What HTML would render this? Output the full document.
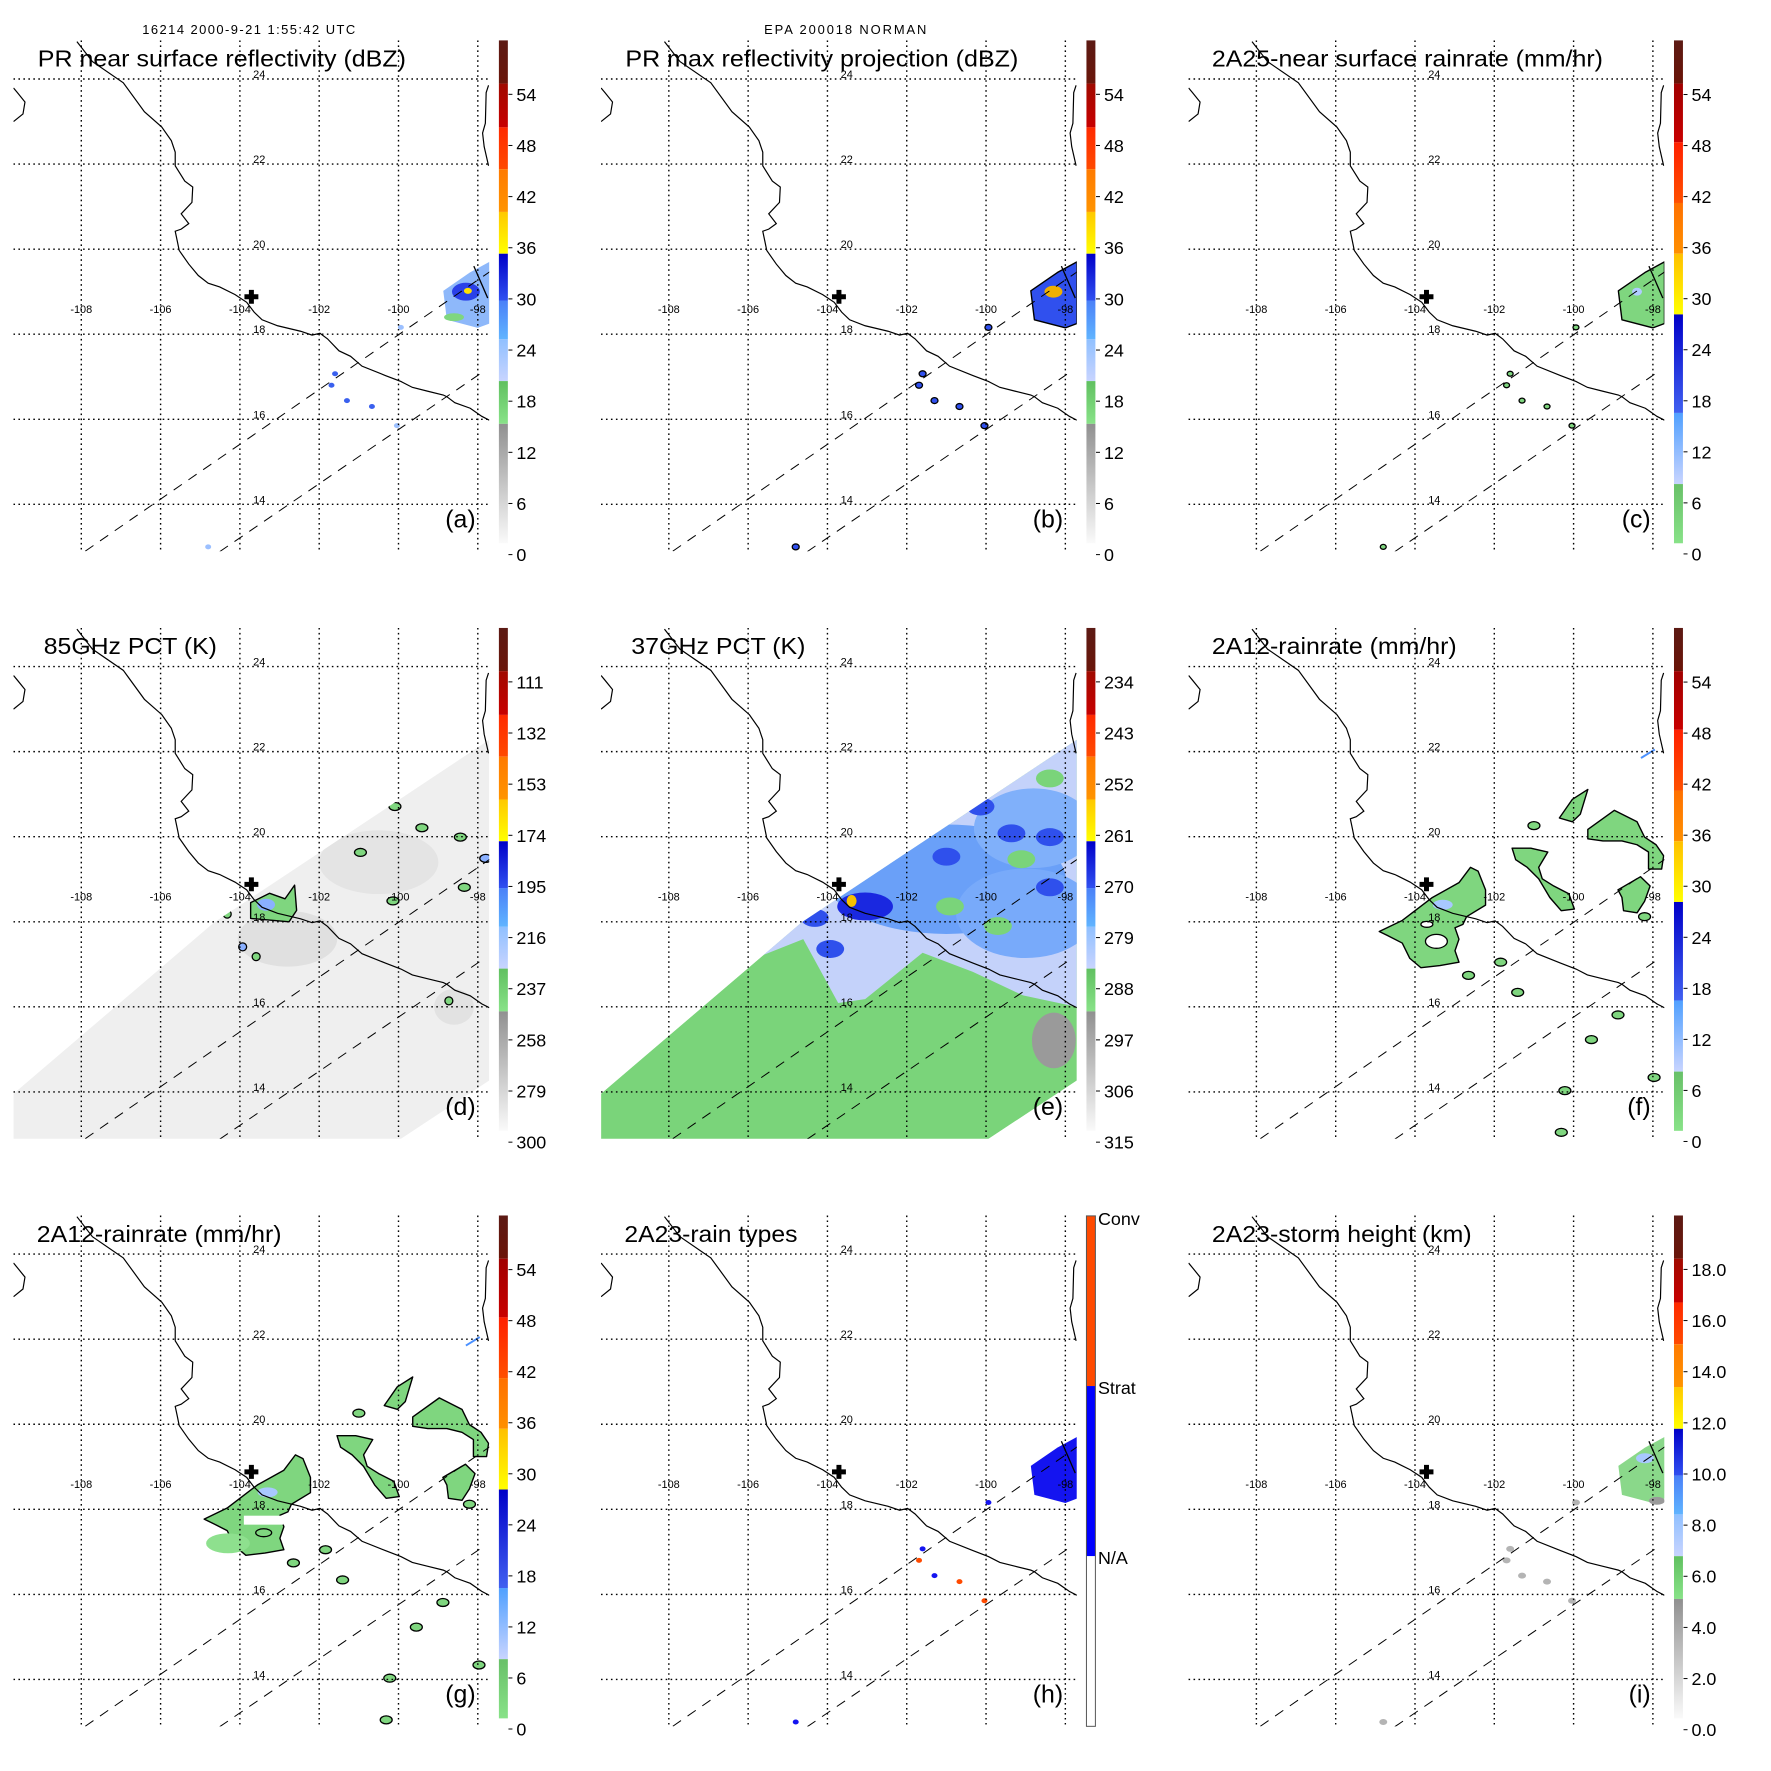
<!DOCTYPE html>
<html><head><meta charset="utf-8"><style>
html,body{margin:0;padding:0;background:#fff}
svg{display:block;font-family:"Liberation Sans",sans-serif}
</style></head><body>
<svg id="fig" xmlns="http://www.w3.org/2000/svg" width="1771" height="1771" viewBox="0 0 1771 1771">
<rect x="0" y="0" width="1771" height="1771" fill="#fff"/>
<g id="root" transform="scale(0.995)">
<text x="143" y="34" font-size="13" textLength="214">16214 2000-9-21 1:55:42 UTC</text>
<text x="768" y="34" font-size="13" textLength="163">EPA 200018 NORMAN</text>
</g>
</svg>
<script>
const coastLon=[-108.11,-107.72,-106.94,-106.41,-105.97,-105.73,-105.63,-105.63,-105.39,-105.19,-105.21,-105.48,-105.29,-105.48,-105.63,-105.58,-105.53,-105.29,-105.05,-104.80,-104.51,-104.12,-103.83,-103.64,-103.44,-103.05,-102.47,-102.18,-101.98,-101.79,-101.50,-101.21,-100.92,-100.33,-99.94,-99.65,-99.26,-98.87,-98.78,-98.58,-98.19,-97.90,-97.71];
const coastLat=[24.88,24.41,23.91,23.23,22.87,22.55,22.28,21.96,21.60,21.46,21.10,20.83,20.60,20.47,20.42,20.20,19.97,19.65,19.38,19.20,19.11,18.93,18.75,18.52,18.34,18.20,18.07,17.98,18.02,17.89,17.61,17.48,17.25,17.03,16.89,16.75,16.66,16.57,16.53,16.39,16.26,16.07,15.98];
const bajaLon=[-109.71,-109.61,-109.42,-109.47,-109.71];
const bajaLat=[23.79,23.68,23.46,23.18,23.00];
const eastLon=[-97.73,-97.79,-97.81,-97.88,-97.84,-97.73];
const eastLat=[23.85,23.68,22.96,22.73,22.41,21.96];
const lonTicks=[-108,-106,-104,-102,-100,-98];
const latTicks=[24,22,20,18,16,14];
const radarLon=-103.71, radarLat=18.88;
const swathLon=[-109.71,-104.66,-97.71,-97.71,-99.95,-109.71];
const swathLat=[13.96,17.98,22.28,14.27,12.89,12.89];
const edge1Lon=[-107.9,-97.7], edge1Lat=[12.9,19.47];
const edge2Lon=[-104.51,-97.8], edge2Lat=[12.89,17.16];
const prMainLon=[-98.87,-98.2,-97.71,-97.71,-98.0,-98.78];
const prMainLat=[19.02,19.45,19.70,18.25,18.15,18.34];
const prSmallLon=[-101.6,-101.69,-101.30,-100.67,-99.94,-100.04,-104.8];
const prSmallLat=[17.07,16.80,16.44,16.30,18.16,15.85,13.0];
const bigLon=[-104.90,-104.32,-103.56,-102.89,-102.60,-102.41,-102.22,-102.22,-102.70,-102.79,-102.99,-102.89,-102.99,-102.89,-103.37,-103.85,-104.13,-104.32,-104.70];
const bigLat=[17.77,18.03,18.57,18.92,19.28,19.19,18.75,18.39,18.12,17.94,17.86,17.59,17.32,17.05,16.97,16.92,17.14,17.50,17.68];
const b2Lon=[-101.55,-101.08,-100.65,-100.88,-100.79,-100.50,-100.12,-99.98,-100.31,-100.60,-100.88,-101.17,-101.46];
const b2Lat=[19.73,19.73,19.64,19.28,19.01,18.84,18.66,18.30,18.26,18.57,19.01,19.28,19.46];
const b3Lon=[-99.64,-98.97,-98.40,-98.21,-97.92,-97.73,-97.78,-98.11,-98.11,-98.40,-98.78,-99.26,-99.64];
const b3Lat=[20.17,20.62,20.35,19.99,19.81,19.55,19.24,19.24,19.64,19.81,19.90,19.90,19.95];
const b4Lon=[-98.88,-98.31,-98.07,-98.21,-98.40,-98.74,-98.78];
const b4Lat=[18.75,19.06,18.84,18.48,18.21,18.26,18.57];
const b5Lon=[-100.36,-100.03,-99.64,-99.83,-100.03];
const b5Lat=[20.44,20.88,21.11,20.53,20.35];
const rrSmallLon=[-98.21,-101.84,-102.65,-98.88,-100.22,-100.31,-99.55,-101.41,-101.0,-97.97];
const rrSmallLat=[18.12,17.05,16.74,15.81,14.03,13.05,15.23,16.34,20.26,14.34];
const tbSpotLon=[-103.73,-103.25,-102.86,-102.62,-102.57,-102.76,-103.73];
const tbSpotLat=[18.45,18.67,18.54,18.86,18.27,18.0,18.08];
const tbSmallLon=[-100.09,-99.41,-100.96,-100.14,-98.34,-98.44,-97.80,-103.93,-103.59,-104.32,-98.73];
const tbSmallLat=[20.71,20.21,19.63,18.49,18.81,19.99,19.49,17.41,17.18,18.18,16.14];
const lbLon=[-105.97,-104.61,-103.73,-103.05,-101.60,-100.33,-99.07,-97.71,-97.71,-104.66];
const lbLat=[17.09,17.59,16.09,16.18,17.27,16.82,16.27,16.00,22.28,17.98];
const dbLon=[-103.05,-101.0,-100.14,-99.36,-98.39,-98.39,-103.93,-104.32];
const dbLat=[18.36,19.53,20.71,20.08,19.99,18.81,17.36,18.09];
const gpLon=[-100.91,-99.11,-98.39,-99.7];
const gpLat=[18.36,19.47,21.37,17.9];

const stdBar=[[40.6,84,'#5c1a14','#6a160a'],[84,128,'#a00a00','#c80000'],[128,170,'#ff2a00','#ff4a00'],[170,213,'#ff7a00','#ff9400'],[213,255,'#ffc800','#ffff00'],[255,302,'#0000c8','#3050f0'],[302,341,'#4a80f8','#60b4ff'],[341,383,'#90c0ff','#c8d4ff'],[383,426,'#60c060','#88e288'],[426,546,'#909090','#fafafa']];
const rainBar=[[40.6,84,'#5c1a14','#6a1408'],[84,143,'#a00000','#c80000'],[143,204,'#ff2000','#ff5000'],[204,255,'#ff7000','#ff9000'],[255,316,'#ffc000','#ffff00'],[316,415,'#0000c8','#4060f0'],[415,486.5,'#50a0ff','#c8d4ff'],[486.5,546,'#68c068','#88e288']];
const dbzLabels=['54','48','42','36','30','24','18','12','6','0'];
const t85Labels=['111','132','153','174','195','216','237','258','279','300'];
const t37Labels=['234','243','252','261','270','279','288','297','306','315'];
const htLabels=['18.0','16.0','14.0','12.0','10.0','8.0','6.0','4.0','2.0','0.0'];
const typeLabels=['Conv','Strat','N/A'];

const NS='http://www.w3.org/2000/svg';
const PW=590.5;
function X(lon){return 81.7+(lon+108)*39.85}
function Y(lat){return 79.4+(24-lat)*42.75}
function pts(lo,la){return lo.map((v,i)=>X(v).toFixed(1)+','+Y(la[i]).toFixed(1)).join(' ')}
function add(parent,tag,name,attrs){
  const el=document.createElementNS(NS,tag);
  
  
  for(const k in attrs) el.setAttribute(k,attrs[k]);
  parent.appendChild(el);return el;
}
const svg=document.getElementById('root');
const defs=add(svg,'defs','defs',{});
let gid=0;
function grad(c0,c1){const id='g'+(gid++);const lg=add(defs,'linearGradient','bar-gradient',{id:id,x1:0,y1:0,x2:0,y2:1});
 add(lg,'stop','stop',{offset:0,'stop-color':c0});add(lg,'stop','stop',{offset:1,'stop-color':c1});return 'url(#'+id+')';}
const clip=add(defs,'clipPath','map-clip',{id:'mapclip'});
add(clip,'rect','clip-rect',{x:13.5,y:40.6,width:478.2,height:513.4});
const sclip=add(defs,'clipPath','swath-clip',{id:'swclip'});
add(sclip,'polygon','swath-clip-shape',{points:pts(swathLon,swathLat)});

function poly(g,name,lo,la,fill,stroke){return add(g,'polygon',name,{points:pts(lo,la),fill:fill,stroke:stroke||'none','stroke-width':1.4,'stroke-linejoin':'round'});}
function ell(g,name,lon,lat,rx,ry,fill,stroke){return add(g,'ellipse',name,{cx:X(lon),cy:Y(lat),rx:rx,ry:ry,fill:fill,stroke:stroke||'none','stroke-width':1.3});}

function drawPR(g,kind){
  if(kind==='a'){
    poly(g,'rain-echo-main',prMainLon,prMainLat,'#8eb8fa');
    ell(g,'rain-echo-core',-98.3,19.0,14,9,'#2a40e8');
    ell(g,'rain-echo-green',-98.6,18.4,10,4,'#7fd67f');
    ell(g,'rain-echo-yellow',-98.25,19.02,4,3,'#ffe000');
    prSmallLon.forEach((v,i)=>ell(g,'rain-echo-small',v,prSmallLat[i],3,2.5,i<4?'#3a60ee':'#9cc0ff'));
  } else if(kind==='b'){
    poly(g,'rain-echo-main',prMainLon,prMainLat,'#3050ee','#000');
    ell(g,'rain-echo-core',-98.3,19.0,9,6,'#f0b000');
    prSmallLon.forEach((v,i)=>ell(g,'rain-echo-small',v,prSmallLat[i],3.5,3,'#3050ee','#000'));
  } else if(kind==='c'){
    poly(g,'rain-echo-main',prMainLon,prMainLat,'#7fd67f','#000');
    ell(g,'rain-echo-light',-98.4,19.0,5,4,'#b0ccff');
    prSmallLon.forEach((v,i)=>ell(g,'rain-echo-small',v,prSmallLat[i],3,2.5,'#7fd67f','#000'));
  } else if(kind==='h'){
    poly(g,'rain-type-strat',prMainLon,prMainLat,'#1414f0');
    prSmallLon.forEach((v,i)=>ell(g,'rain-type-small',v,prSmallLat[i],3,2.5,i%2?'#ff4a00':'#1414f0'));
  } else if(kind==='i'){
    poly(g,'storm-height-main',prMainLon,prMainLat,'#8ad88a');
    ell(g,'storm-height-light',-98.2,19.2,9,5,'#a8c8ff');
    ell(g,'storm-height-gray',-97.9,18.2,8,4,'#9a9a9a');
    prSmallLon.forEach((v,i)=>ell(g,'storm-height-small',v,prSmallLat[i],4,3,'#b4b4b4'));
  }
  add(g,'line','swath-edge-segment',{x1:X(-98.1),y1:Y(19.6),x2:X(-97.75),y2:Y(18.85),stroke:'#000','stroke-width':1.3});
}
function drawRR(g,kind){
  const f='#7fd67f',s='#000';
  poly(g,'rain-area-big',bigLon,bigLat,f,s);
  ell(g,'rain-area-light',-103.3,18.4,10,5,'#a8c8ff');
  if(kind==='f'){
    ell(g,'rain-area-hole',-103.46,17.54,11,7,'#fff',s);
    ell(g,'rain-area-hole',-103.70,17.94,6,3,'#fff',s);
  } else {
    add(g,'rect','rain-area-gap',{x:X(-103.9),y:Y(17.85),width:40,height:9,fill:'#fff'});
    ell(g,'rain-area-fringe',-104.3,17.2,22,10,'#8ee08e');
    ell(g,'rain-area-hole',-103.4,17.45,8,4,'#7fd67f',s);
  }
  poly(g,'rain-area-2',b2Lon,b2Lat,f,s);
  poly(g,'rain-area-3',b3Lon,b3Lat,f,s);
  poly(g,'rain-area-4',b4Lon,b4Lat,f,s);
  poly(g,'rain-area-5',b5Lon,b5Lat,f,s);
  rrSmallLon.forEach((v,i)=>ell(g,'rain-area-small',v,rrSmallLat[i],6,4,f,s));
  add(g,'line','rain-fleck',{x1:X(-98.3),y1:Y(21.85),x2:X(-97.95),y2:Y(22.05),stroke:'#4a90ff','stroke-width':2});
}
function draw85(g){
  const sg=add(g,'g','swath-85ghz',{'clip-path':'url(#swclip)'});
  poly(sg,'swath-fill',swathLon,swathLat,'#efefef');
  ell(sg,'cold-smudge',-102.8,17.6,50,28,'#e0e0e0');
  ell(sg,'cold-smudge',-100.5,19.4,60,32,'#e4e4e4');
  ell(sg,'cold-smudge',-98.6,16.0,20,18,'#e2e2e2');
  poly(sg,'cold-spot-main',tbSpotLon,tbSpotLat,'#7fd67f','#000');
  ell(sg,'cold-spot-core',-103.34,18.40,9,6,'#8ab0ff');
  tbSmallLon.forEach((v,i)=>ell(sg,'cold-spot',v,tbSmallLat[i],i<7?6:4,4,i===6||i===7?'#8ab0ff':'#7fd67f','#000'));
}
function draw37(g){
  const sg=add(g,'g','swath-37ghz',{'clip-path':'url(#swclip)'});
  poly(sg,'swath-fill',swathLon,swathLat,'#7ad47a');
  poly(sg,'depressed-region',lbLon,lbLat,'#c4d2fa');
  ell(sg,'mid-blue-region',-101.0,19.0,120,55,'#6aa0f8');
  ell(sg,'mid-blue-region',-99.0,18.2,70,45,'#78aafa');
  ell(sg,'mid-blue-region',-98.8,20.2,60,40,'#80b0fa');
  dbLon.forEach((v,i)=>ell(sg,'cold-blue-patch',v,dbLat[i],i===0?28:14,i===0?14:9,i===0?'#1a28e0':'#2f50ec'));
  gpLon.forEach((v,i)=>ell(sg,'warm-green-patch',v,gpLat[i],14,9,'#7ad47a'));
  ell(sg,'ocean-gray',-98.29,15.21,22,28,'#9a9a9a');
  ell(sg,'scatter-yellow',-103.39,18.49,5,6,'#f8c000');
}
function colorbar(g,bar,labels){
  bar.forEach(b=>add(g,'rect','colorbar-segment',{x:501.4,y:b[0],width:9,height:b[1]-b[0],fill:grad(b[2],b[3])}));
  labels.forEach((t,i)=>{
    const y=94.8+i*51.4;
    add(g,'line','colorbar-tick',{x1:511,y1:y,x2:515,y2:y,stroke:'#000','stroke-width':1});
    const tx=add(g,'text','colorbar-label',{x:519,y:y+6.5,'font-size':18});tx.textContent=t;
  });
}
function typeBar(g){
  const segs=[[41,212,'#ff4a00'],[212,383,'#0000ff'],[383,554,'#ffffff']];
  segs.forEach(s=>add(g,'rect','colorbar-segment',{x:501.4,y:s[0],width:9,height:s[1]-s[0],fill:s[2]}));
  add(g,'rect','colorbar-frame',{x:501.4,y:41,width:9,height:513,fill:'none',stroke:'#555','stroke-width':1});
  typeLabels.forEach((t,i)=>{const tx=add(g,'text','colorbar-label',{x:513,y:[50,220,391][i],'font-size':18});tx.textContent=t;});
}
const panels=[
 {c:0,r:0,id:'a',title:'PR near surface reflectivity (dBZ)',tw:370,tx:38,kind:'pr'},
 {c:1,r:0,id:'b',title:'PR max reflectivity projection (dBZ)',tw:395,tx:38,kind:'pr'},
 {c:2,r:0,id:'c',title:'2A25-near surface rainrate (mm/hr)',tw:393,tx:37,kind:'pr'},
 {c:0,r:1,id:'d',title:'85GHz PCT (K)',tw:174,tx:44,kind:'85'},
 {c:1,r:1,id:'e',title:'37GHz PCT (K)',tw:175,tx:44,kind:'37'},
 {c:2,r:1,id:'f',title:'2A12-rainrate (mm/hr)',tw:246,tx:37,kind:'rr'},
 {c:0,r:2,id:'g',title:'2A12-rainrate (mm/hr)',tw:246,tx:37,kind:'rr'},
 {c:1,r:2,id:'h',title:'2A23-rain types',tw:174,tx:37,kind:'pr'},
 {c:2,r:2,id:'i',title:'2A23-storm height (km)',tw:261,tx:37,kind:'pr'}];
panels.forEach(p=>{
  const g=add(svg,'g','panel-'+p.id,{transform:'translate('+(p.c*PW)+','+(p.r*PW)+')'});
  const m=add(g,'g','map-area',{'clip-path':'url(#mapclip)'});
  if(p.kind==='85') draw85(m);
  else if(p.kind==='37') draw37(m);
  else if(p.kind==='rr') drawRR(m,p.id);
  else drawPR(m,p.id);
  lonTicks.forEach(v=>add(m,'line','meridian',{x1:X(v),y1:40.6,x2:X(v),y2:554,stroke:'#000','stroke-width':1.4,'stroke-dasharray':'1.6,3.4'}));
  latTicks.forEach(v=>add(m,'line','parallel',{x1:13.5,y1:Y(v),x2:491.7,y2:Y(v),stroke:'#000','stroke-width':1.4,'stroke-dasharray':'1.6,3.4'}));
  add(m,'polyline','swath-edge-left',{points:pts(edge1Lon,edge1Lat),fill:'none',stroke:'#000','stroke-width':1,'stroke-dasharray':'10,8'});
  add(m,'polyline','swath-edge-right',{points:pts(edge2Lon,edge2Lat),fill:'none',stroke:'#000','stroke-width':1,'stroke-dasharray':'10,8'});
  add(m,'polyline','coastline',{points:pts(coastLon,coastLat),fill:'none',stroke:'#000','stroke-width':1.2});
  add(m,'polyline','coastline-baja',{points:pts(bajaLon,bajaLat),fill:'none',stroke:'#000','stroke-width':1.2});
  add(m,'polyline','coastline-east',{points:pts(eastLon,eastLat),fill:'none',stroke:'#000','stroke-width':1.2});
  const cx=X(radarLon),cy=Y(radarLat);
  add(g,'path','radar-site-marker',{d:'M'+(cx-2.5)+','+(cy-7)+'h5v4.5h4.5v5h-4.5v4.5h-5v-4.5h-4.5v-5h4.5z',fill:'#000'});
  lonTicks.forEach(v=>{const t=add(g,'text','lon-label',{x:X(v),y:314.5,'font-size':11,'text-anchor':'middle'});t.textContent=String(v);});
  latTicks.forEach(v=>{const t=add(g,'text','lat-label',{x:260.5,y:Y(v)-1,'font-size':11,'text-anchor':'middle'});t.textContent=String(v);});
  const tt=add(g,'text','panel-title',{x:p.tx,y:67,'font-size':23,textLength:p.tw,lengthAdjust:'spacingAndGlyphs'});tt.textContent=p.title;
  const lt=add(g,'text','panel-letter',{x:478,y:530,'font-size':25,'text-anchor':'end'});lt.textContent='('+p.id+')';
  if(p.id==='h') typeBar(g);
  else if(p.id==='c'||p.id==='f'||p.id==='g'){
    rainBar.forEach(b=>add(g,'rect','colorbar-segment',{x:501.4,y:b[0],width:9,height:b[1]-b[0],fill:grad(b[2],b[3])}));
    dbzLabels.forEach((t,i)=>{const y=95+i*51.3;
      add(g,'line','colorbar-tick',{x1:511,y1:y,x2:515,y2:y,stroke:'#000','stroke-width':1});
      const tx=add(g,'text','colorbar-label',{x:519,y:y+6.5,'font-size':18});tx.textContent=t;});
  } else colorbar(g,stdBar,p.id==='d'?t85Labels:p.id==='e'?t37Labels:p.id==='i'?htLabels:dbzLabels);
});
</script>
</body></html>
